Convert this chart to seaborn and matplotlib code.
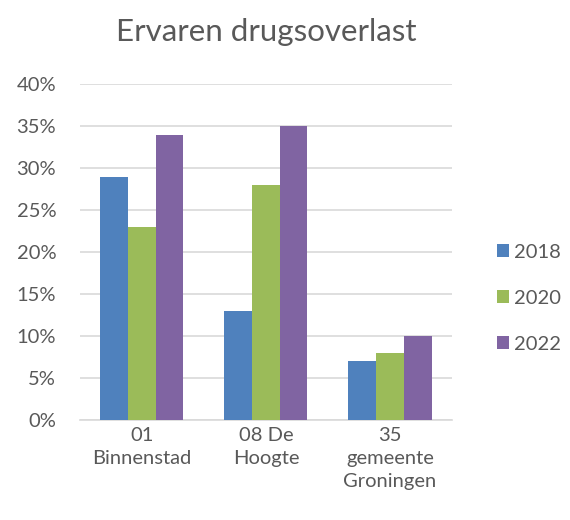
import pandas as pd
import seaborn as sns
import matplotlib.pyplot as plt
from matplotlib.ticker import PercentFormatter

# Data
wijken = ['01\nBinnenstad', '08 De\nHoogte', '35\ngemeente\nGroningen']
jaren = ['2018', '2020', '2022']
waarden_2018 = [29, 13, 7]
waarden_2020 = [23, 28, 8]
waarden_2022 = [34, 35, 10]

kleuren = ['#4F81BD', '#9BBB59', '#8064A2']
tekst = '#595959'

df = pd.DataFrame({
    'wijk': wijken * 3,
    'jaar': [j for j in jaren for _ in wijken],
    'pct': waarden_2018 + waarden_2020 + waarden_2022,
})

sns.set_style('white')
plt.rcParams['font.family'] = ['Lato', 'DejaVu Sans']

fig = plt.figure(figsize=(5.7, 5.2), dpi=100)
ax = fig.add_axes([0.140, 0.192, 0.653, 0.646])

sns.barplot(data=df, x='wijk', y='pct', hue='jaar', palette=kleuren,
            width=0.67, gap=0, saturation=1, linewidth=0, ax=ax, zorder=3)

ax.set_ylim(0, 40)
ax.set_yticks(range(0, 41, 5))
ax.yaxis.set_major_formatter(PercentFormatter(decimals=0))
ax.grid(axis='y', color='#D9D9D9', linewidth=1.2, zorder=0)
ax.set_axisbelow(True)
for s in ['top', 'right', 'left']:
    ax.spines[s].set_visible(False)
ax.spines['bottom'].set_color('#D9D9D9')
ax.spines['bottom'].set_linewidth(1.2)
ax.tick_params(axis='both', length=0, labelsize=14.5, colors=tekst)
ax.tick_params(axis='y', pad=17)
ax.tick_params(axis='x', pad=5)
for lbl in ax.get_xticklabels():
    lbl.set_linespacing(1.42)
ax.set_xlabel('')
ax.set_ylabel('')

ax.set_title('Ervaren drugsoverlast', fontsize=22.5, color=tekst, pad=31)

leg = ax.legend(loc='center left', bbox_to_anchor=(1.10, 0.363), frameon=False,
                fontsize=14.5, handlelength=0.6, handleheight=0.6,
                handletextpad=0.25, labelspacing=1.45, borderaxespad=0)
for t in leg.get_texts():
    t.set_color(tekst)

fig.savefig('out.png', dpi=100)
